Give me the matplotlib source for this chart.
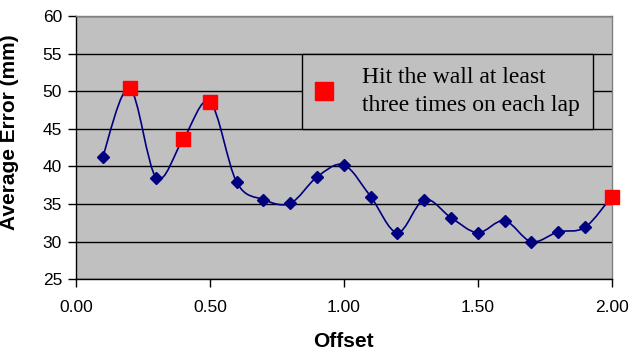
import matplotlib.pyplot as plt
from matplotlib.path import Path
from matplotlib.patches import PathPatch
from matplotlib.lines import Line2D

offset = [0.1, 0.2, 0.3, 0.4, 0.5, 0.6, 0.7, 0.8, 0.9, 1.0,
          1.1, 1.2, 1.3, 1.4, 1.5, 1.6, 1.7, 1.8, 1.9, 2.0]
avg_error = [41.3, 50.4, 38.5, 43.6, 48.6, 37.9, 35.6, 35.1, 38.6, 40.2,
             36.0, 31.2, 35.6, 33.2, 31.2, 32.8, 30.0, 31.3, 31.9, 36.0]
# offsets where the car hit the wall at least three times per lap
hit_wall = [0.2, 0.4, 0.5, 2.0]
legend_label = "Hit the wall at least\nthree times on each lap"

navy = "#000080"
plt.rcParams['font.family'] = ['Liberation Sans', 'DejaVu Sans']

fig = plt.figure(figsize=(6.31, 3.54), dpi=100)
ax = fig.add_axes([0.1204, 0.211, 0.8490, 0.7438])
ax.set_facecolor("#C0C0C0")


def smooth_path(xs, ys):
    # excel-style smoothed line: cubic bezier between neighbouring points
    pts = list(zip(xs, ys))
    n = len(pts)
    verts = [pts[0]]
    codes = [Path.MOVETO]
    for i in range(n - 1):
        p0 = pts[i - 1] if i > 0 else pts[i]
        p1 = pts[i]
        p2 = pts[i + 1]
        p3 = pts[i + 2] if i + 2 < n else pts[i + 1]
        c1 = (p1[0] + (p2[0] - p0[0]) / 6, p1[1] + (p2[1] - p0[1]) / 6)
        c2 = (p2[0] - (p3[0] - p1[0]) / 6, p2[1] - (p3[1] - p1[1]) / 6)
        verts += [c1, c2, p2]
        codes += [Path.CURVE4] * 3
    return Path(verts, codes)


ax.add_patch(PathPatch(smooth_path(offset, avg_error), facecolor="none",
                       edgecolor=navy, lw=1.2, zorder=3))

blue_x = [x for x in offset if x not in hit_wall]
blue_y = [y for x, y in zip(offset, avg_error) if x not in hit_wall]
red_x = [x for x in offset if x in hit_wall]
red_y = [y for x, y in zip(offset, avg_error) if x in hit_wall]

ax.plot(blue_x, blue_y, linestyle="none", marker="D", ms=6, color=navy, zorder=4)
ax.plot(red_x, red_y, linestyle="none", marker="s", ms=10, color="#FF0000",
        zorder=5, clip_on=False)

ax.set_xlim(0, 2)
ax.set_ylim(25, 60)
ax.set_xticks([0, 0.5, 1.0, 1.5, 2.0])
ax.set_xticklabels(["0.00", "0.50", "1.00", "1.50", "2.00"])
ax.set_yticks(range(25, 61, 5))
ax.tick_params(labelsize=12.5, direction="out", length=6, width=1, color="black", pad=4)
ax.tick_params(axis="x", pad=9)

ax.yaxis.grid(True, color="black", lw=1)
ax.set_axisbelow(True)
for side in ["left", "bottom"]:
    ax.spines[side].set_color("black")
    ax.spines[side].set_linewidth(1)
for side in ["top", "right"]:
    ax.spines[side].set_color("#808080")
    ax.spines[side].set_linewidth(1)

ax.set_ylabel("Average Error (mm)", fontsize=15, fontweight="bold")
ax.yaxis.set_label_coords(-0.107, 0.559)
ax.set_xlabel("Offset", fontsize=15, fontweight="bold", labelpad=12)

handle = Line2D([], [], linestyle="none", marker="s", ms=13, color="#FF0000")
leg = ax.legend([handle], [legend_label], loc="upper left",
                bbox_to_anchor=(0.422, 0.856), frameon=True, fancybox=False,
                prop={"family": "Liberation Serif", "size": 17},
                handlelength=0.8, handletextpad=1.2, borderpad=0.55,
                borderaxespad=0)
for t in leg.get_texts():
    t.set_linespacing(1.45)
leg.get_frame().set_edgecolor("black")
leg.get_frame().set_facecolor("#C0C0C0")
leg.get_frame().set_linewidth(1)
leg.get_frame().set_alpha(1)

plt.savefig("out.png", dpi=100)
